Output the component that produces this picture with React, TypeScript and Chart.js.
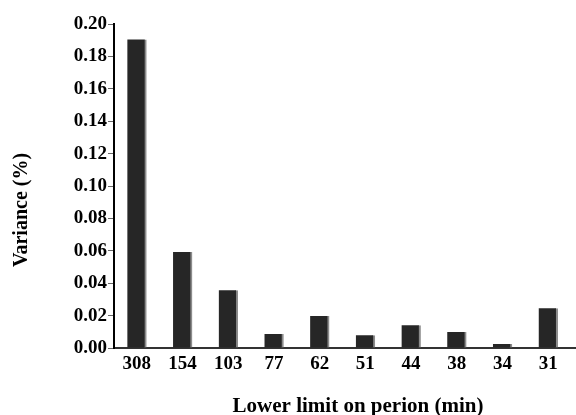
import React, { useEffect, useRef } from "react";
import { Chart, registerables } from "chart.js";

Chart.register(...registerables);

const categories = ["308", "154", "103", "77", "62", "51", "44", "38", "34", "31"];
const variance = [0.1905, 0.0592, 0.0357, 0.0086, 0.0197, 0.0078, 0.0141, 0.0098, 0.0025, 0.0246];
const yTicks = [0, 0.02, 0.04, 0.06, 0.08, 0.1, 0.12, 0.14, 0.16, 0.18, 0.2];
const xTitle = "Lower limit on perion (min)";
const yTitle = "Variance (%)";

const FONT = "'Liberation Serif', 'Times New Roman', serif";

const titlePlugin = {
  id: "titles",
  afterDraw(chart: any) {
    const ctx = chart.ctx;
    const area = chart.chartArea;
    ctx.save();
    ctx.strokeStyle = "#333";
    ctx.lineWidth = 2;
    ctx.beginPath();
    ctx.moveTo(area.right - 2, area.bottom);
    ctx.lineTo(chart.width, area.bottom);
    ctx.stroke();
    ctx.fillStyle = "#000";
    ctx.font = `bold 21px ${FONT}`;
    ctx.textAlign = "center";
    ctx.textBaseline = "alphabetic";
    ctx.fillText(xTitle, 358, 412);
    ctx.font = `bold 20px ${FONT}`;
    ctx.translate(27, 210);
    ctx.rotate(-Math.PI / 2);
    ctx.fillText(yTitle, 0, 0);
    ctx.restore();
  },
};

export default function App() {
  const ref = useRef<HTMLCanvasElement>(null);
  useEffect(() => {
    if (!ref.current) return;
    const chart = new Chart(ref.current, {
      type: "bar",
      data: {
        labels: categories,
        datasets: [
          {
            data: variance,
            backgroundColor: "#262626",
            borderColor: "#8c8c8c",
            borderWidth: { top: 0, left: 0, bottom: 0, right: 2 },
            borderSkipped: false,
            barThickness: 19,
          },
        ],
      },
      options: {
        animation: false,
        responsive: false,
        maintainAspectRatio: false,
        layout: { padding: { top: 24, right: 5, left: 0, bottom: 0 } },
        plugins: { legend: { display: false }, tooltip: { enabled: false } },
        scales: {
          x: {
            grid: { display: false, drawTicks: false },
            border: { display: true, color: "#333", width: 2 },
            ticks: {
              color: "#000",
              font: { family: FONT, size: 19, weight: "bold" },
              padding: 5,
              maxRotation: 0,
            },
            afterFit(scale: any) {
              scale.height = 67;
            },
          },
          y: {
            min: 0,
            max: 0.2,
            afterBuildTicks(scale: any) {
              scale.ticks = yTicks.map((v) => ({ value: v }));
            },
            grid: { drawOnChartArea: false, drawTicks: true, tickLength: 6, color: "#666" },
            border: { display: true, color: "#000", width: 2 },
            ticks: {
              color: "#000",
              font: { family: FONT, size: 19, weight: "bold" },
              padding: 1,
              callback: (v: any) => Number(v).toFixed(2),
            },
            afterFit(scale: any) {
              scale.width = 114;
            },
          },
        },
      },
      plugins: [titlePlugin],
    });
    return () => chart.destroy();
  }, []);
  return (
    <div style={{ position: "fixed", left: 0, top: 0, width: 576, height: 415, background: "#fff" }}>
      <canvas ref={ref} width={576} height={415} style={{ width: 576, height: 415 }} />
    </div>
  );
}
